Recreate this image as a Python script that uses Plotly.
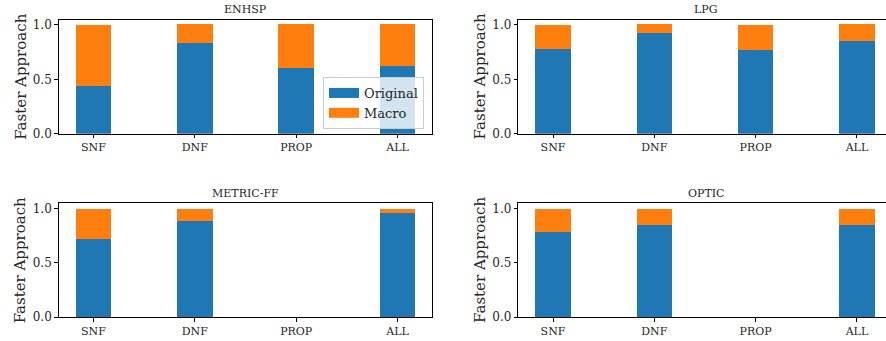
import plotly.graph_objects as go

categories = ["SNF", "DNF", "PROP", "ALL"]
panels = ["ENHSP", "LPG", "METRIC-FF", "OPTIC"]
original = {
    "ENHSP": [0.44, 0.83, 0.60, 0.62],
    "LPG": [0.775, 0.923, 0.766, 0.849],
    "METRIC-FF": [0.716, 0.889, 0.0, 0.957],
    "OPTIC": [0.787, 0.852, 0.0, 0.852],
}
macro = {
    "ENHSP": [0.56, 0.176, 0.406, 0.386],
    "LPG": [0.222, 0.083, 0.231, 0.157],
    "METRIC-FF": [0.284, 0.111, 0.0, 0.043],
    "OPTIC": [0.213, 0.148, 0.0, 0.148],
}
yticks = [0.0, 0.5, 1.0]
ytick_text = ["0.0", "0.5", "1.0"]

W, H = 886, 341
FONT = "DejaVu Serif"
BLUE = "#1f77b4"
ORANGE = "#ff7f0e"

# panel boxes in pixels: (left, right, top, bottom)
boxes = [
    (58.7, 432.3, 19.5, 133.7),
    (518.3, 886.0, 19.5, 133.7),
    (58.7, 432.3, 203.3, 317.0),
    (518.3, 886.0, 203.3, 317.0),
]
xranges = [[-0.3425, 3.3425], [-0.3425, 3.287], [-0.3425, 3.3425], [-0.3425, 3.287]]

fig = go.Figure()
layout = dict(
    width=W, height=H, margin=dict(l=0, r=0, t=0, b=0, pad=0, autoexpand=False),
    plot_bgcolor="white", paper_bgcolor="white",
    barmode="stack", showlegend=True,
    font=dict(family=FONT, color="#262626"),
)
annotations = []
for i, name in enumerate(panels):
    ax = "" if i == 0 else str(i + 1)
    l, r, t, b = boxes[i]
    fig.add_trace(go.Bar(
        x=categories, y=original[name], name="Original", marker_color=BLUE,
        marker_line_width=0, width=0.35, xaxis="x" + ax, yaxis="y" + ax,
        showlegend=False, offsetgroup="a",
    ))
    fig.add_trace(go.Bar(
        x=categories, y=macro[name], name="Macro", marker_color=ORANGE,
        marker_line_width=0, width=0.35, xaxis="x" + ax, yaxis="y" + ax,
        showlegend=False, offsetgroup="a",
    ))
    right_cut = i in (1, 3)
    layout["xaxis" + ax] = dict(
        domain=[l / W, r / W], anchor="y" + ax, range=xranges[i],
        showline=True, linecolor="black", linewidth=1, mirror=True,
        ticks="outside", ticklen=3.5, tickcolor="black", tickwidth=0.8,
        tickfont=dict(family=FONT, size=11, color="#262626"),
        showgrid=False, zeroline=False, fixedrange=True, automargin=False,
    )
    layout["yaxis" + ax] = dict(
        domain=[1 - b / H, 1 - t / H], anchor="x" + ax, range=[0, 1.05],
        showline=True, linecolor="black", linewidth=1,
        mirror=(not right_cut),
        tickvals=yticks, ticktext=ytick_text,
        ticks="outside", ticklen=3.5, tickcolor="black", tickwidth=0.8,
        tickfont=dict(family=FONT, size=12, color="#262626"),
        showgrid=False, zeroline=False, fixedrange=True, automargin=False,
    )
    annotations.append(dict(
        text=name, x=(l + r) / 2 / W if not right_cut else (518.3 + 893.7) / 2 / W,
        y=1 - (t - 10) / H, xref="paper", yref="paper",
        xanchor="center", yanchor="middle", showarrow=False,
        font=dict(family=FONT, size=11, color="#262626"),
    ))
    annotations.append(dict(
        text="Faster Approach", x=(l - 38.5) / W, y=1 - (t + b) / 2 / H,
        xref="paper", yref="paper", textangle=-90,
        xanchor="center", yanchor="middle", showarrow=False,
        font=dict(family=FONT, size=15, color="#262626"),
    ))

# legend entries drawn as wide patches (matplotlib style)
for nm, col in (("Original", BLUE), ("Macro", ORANGE)):
    fig.add_trace(go.Scatter(
        x=[None], y=[None], mode="lines", name=nm,
        line=dict(color=col, width=11), showlegend=True,
        xaxis="x", yaxis="y", hoverinfo="skip",
    ))

layout["annotations"] = annotations
layout["legend"] = dict(
    x=424 / W, y=1 - 77 / H, xanchor="right", yanchor="top",
    bgcolor="rgba(255,255,255,0.8)", bordercolor="#cccccc", borderwidth=1,
    font=dict(family=FONT, size=13, color="#262626"),
    traceorder="normal", itemwidth=30, tracegroupgap=0,
)
fig.update_layout(**layout)
fig.write_html(
    "out.html",
    config={"displayModeBar": False},
    post_script="document.body.style.margin='0';document.body.style.overflow='hidden';",
)
